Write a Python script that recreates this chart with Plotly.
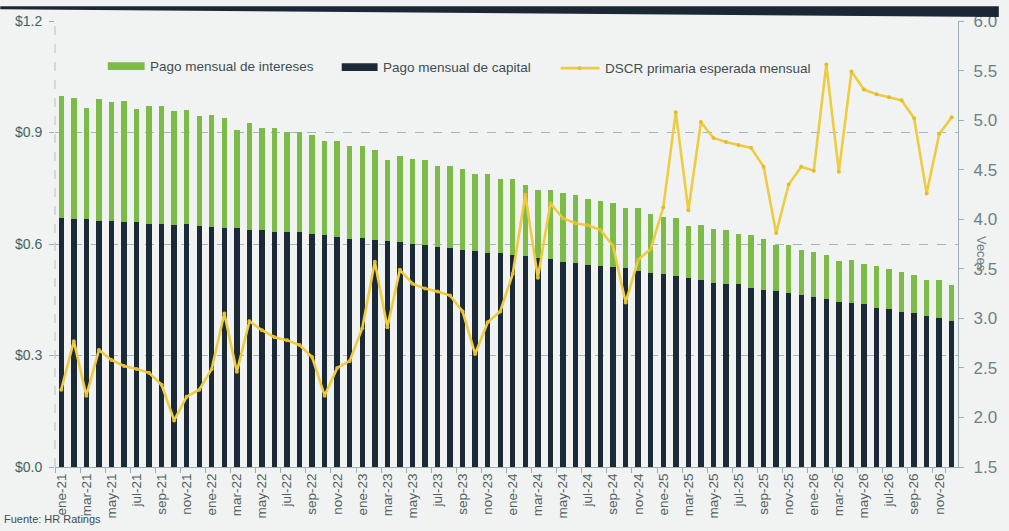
import plotly.graph_objects as go

# Month labels ene-21 .. dic-26
meses = ["ene", "feb", "mar", "abr", "may", "jun", "jul", "ago", "sep", "oct", "nov", "dic"]
anios = ["21", "22", "23", "24", "25", "26"]
periodos = [f"{m}-{a}" for a in anios for m in meses]

# Monthly principal payment (millions of dollars)
capital = [
    0.669, 0.668, 0.668, 0.663, 0.661, 0.659, 0.659, 0.655, 0.655, 0.652, 0.653, 0.648,
    0.646, 0.644, 0.642, 0.637, 0.638, 0.632, 0.631, 0.631, 0.626, 0.624, 0.619, 0.614,
    0.615, 0.612, 0.608, 0.606, 0.601, 0.596, 0.591, 0.589, 0.584, 0.582, 0.577, 0.575,
    0.570, 0.568, 0.563, 0.559, 0.551, 0.549, 0.544, 0.542, 0.537, 0.535, 0.527, 0.523,
    0.518, 0.513, 0.508, 0.504, 0.496, 0.493, 0.492, 0.481, 0.477, 0.474, 0.467, 0.462,
    0.458, 0.452, 0.445, 0.440, 0.438, 0.428, 0.426, 0.416, 0.414, 0.406, 0.402, 0.394,
]

# Monthly interest payment (millions of dollars)
intereses = [
    0.328, 0.325, 0.299, 0.328, 0.320, 0.325, 0.304, 0.315, 0.317, 0.305, 0.307, 0.296,
    0.302, 0.296, 0.264, 0.288, 0.275, 0.281, 0.270, 0.270, 0.268, 0.254, 0.258, 0.249,
    0.249, 0.241, 0.217, 0.232, 0.228, 0.230, 0.219, 0.222, 0.217, 0.206, 0.211, 0.199,
    0.204, 0.192, 0.182, 0.187, 0.185, 0.184, 0.177, 0.175, 0.174, 0.162, 0.170, 0.159,
    0.156, 0.157, 0.140, 0.148, 0.145, 0.144, 0.135, 0.143, 0.137, 0.124, 0.130, 0.122,
    0.121, 0.119, 0.109, 0.116, 0.109, 0.114, 0.106, 0.108, 0.103, 0.098, 0.100, 0.095,
]

# Expected monthly primary DSCR (times)
dscr = [
    2.28, 2.77, 2.22, 2.68, 2.58, 2.52, 2.49, 2.45, 2.33, 1.97, 2.21, 2.28,
    2.49, 3.05, 2.46, 2.97, 2.88, 2.81, 2.78, 2.73, 2.61, 2.22, 2.50, 2.57,
    2.90, 3.57, 2.91, 3.49, 3.35, 3.30, 3.27, 3.23, 3.07, 2.64, 2.96, 3.07,
    3.45, 4.25, 3.41, 4.16, 4.01, 3.96, 3.94, 3.89, 3.73, 3.16, 3.59, 3.70,
    4.12, 5.08, 4.09, 4.98, 4.82, 4.78, 4.75, 4.72, 4.53, 3.86, 4.35, 4.53,
    4.49, 5.56, 4.48, 5.49, 5.31, 5.26, 5.23, 5.20, 5.02, 4.26, 4.86, 5.03,
]

etiquetas_x = periodos[::2]
ticks_izq = [0.0, 0.3, 0.6, 0.9, 1.2]

VERDE = "#7cbb47"
NAVY = "#1c2a37"
AMARILLO = "#eecc40"
BG = "#f1f3f2"
EJE = "#9cb0b3"

W, H = 1009, 531
ML, MR, MT, MB = 55, 47, 15, 62
PW, PH = W - ML - MR, H - MT - MB


def px(x):
    return (x - ML) / PW


def py(y):
    return (H - MB - y) / PH


fig = go.Figure()

fig.add_trace(go.Bar(
    x=periodos, y=capital, name="Pago mensual de capital",
    marker=dict(color=NAVY, line=dict(width=0)), yaxis="y",
))
fig.add_trace(go.Bar(
    x=periodos, y=intereses, name="Pago mensual de intereses",
    marker=dict(color=VERDE, line=dict(width=0)), yaxis="y",
))
fig.add_trace(go.Scatter(
    x=periodos, y=dscr, name="DSCR primaria esperada mensual",
    mode="lines+markers", yaxis="y2",
    line=dict(color=AMARILLO, width=2.6),
    marker=dict(color="#e3bd2e", size=4),
))

fig.update_layout(
    width=W, height=H, autosize=False,
    margin=dict(l=ML, r=MR, t=MT, b=MB),
    paper_bgcolor=BG, plot_bgcolor=BG,
    barmode="stack", bargap=0.57,
    showlegend=False,
    font=dict(family="Liberation Sans, Arial, sans-serif", color="#4f6061"),
    xaxis=dict(
        type="category", range=[-0.5, len(periodos) - 0.5],
        tickmode="array", tickvals=etiquetas_x, ticktext=etiquetas_x,
        tickangle=-90, ticks="outside", tickson="boundaries", ticklen=5,
        tickcolor=EJE, showline=True, linecolor=EJE, linewidth=1.2,
        showgrid=False, tickfont=dict(size=13.5, color="#4f6061"),
    ),
    yaxis=dict(
        range=[0, 1.2], tickvals=ticks_izq,
        ticktext=[f"${v:.1f}" for v in ticks_izq],
        showgrid=True, gridcolor="#a3b6b9", griddash="dash", gridwidth=1,
        zeroline=False, showline=False, ticks="outside", ticklen=5,
        tickcolor=EJE, ticklabelstandoff=4,
        tickfont=dict(size=14, color="#3d6367"),
    ),
    yaxis2=dict(
        range=[1.5, 6.0], dtick=0.5, tickformat=".1f", overlaying="y", side="right",
        showgrid=False, zeroline=False, showline=True, linecolor=EJE, linewidth=1.2,
        ticks="outside", ticklen=5, tickcolor=EJE, ticklabelstandoff=6,
        tickfont=dict(family="Liberation Sans Narrow, Liberation Sans, Arial",
                      size=17, color="#6d8183"),
    ),
)

shapes = [
    # dashed left axis
    dict(type="line", xref="paper", yref="paper", x0=0, x1=0, y0=0, y1=1,
         line=dict(color="#b2c1c3", width=1, dash="dash")),
    # dark header band
    dict(type="path", xref="paper", yref="paper",
         path=f"M {px(0)},{py(0)} L {px(1003)},{py(0)} L {px(1003)},{py(11)} L {px(0)},{py(3)} Z",
         fillcolor="#1c2735", line=dict(width=0)),
    # legend swatches
    dict(type="rect", xref="paper", yref="paper", x0=px(108), x1=px(145), y0=py(57), y1=py(65),
         fillcolor=VERDE, line=dict(width=0)),
    dict(type="rect", xref="paper", yref="paper", x0=px(343), x1=px(379), y0=py(58), y1=py(66),
         fillcolor=NAVY, line=dict(width=0)),
    dict(type="line", xref="paper", yref="paper", x0=px(563), x1=px(602), y0=py(63), y1=py(63),
         line=dict(color=AMARILLO, width=2.6)),
    dict(type="circle", xref="paper", yref="paper", x0=px(580), x1=px(584), y0=py(61), y1=py(65),
         fillcolor="#e3bd2e", line=dict(width=0)),
]
fig.update_layout(shapes=shapes)

leyenda = [
    (148, 61, "Pago mensual de intereses"),
    (382, 62, "Pago mensual de capital"),
    (605, 63, "DSCR primaria esperada mensual"),
]
for x0, y0, texto in leyenda:
    fig.add_annotation(x=px(x0), y=py(y0), xref="paper", yref="paper", text=texto,
                       showarrow=False, xanchor="left", yanchor="middle",
                       font=dict(size=13.5, color="#3e4d50"))

fig.add_annotation(x=px(985), y=py(252), xref="paper", yref="paper", text="Veces",
                   showarrow=False, textangle=90, xanchor="center", yanchor="middle",
                   font=dict(size=13, color="#6d8183"))
fig.add_annotation(x=px(2), y=py(530), xref="paper", yref="paper", text="Fuente: HR Ratings",
                   showarrow=False, xanchor="left", yanchor="bottom",
                   font=dict(size=11, color="#3e4d50"))

fig.write_html("out.html")
